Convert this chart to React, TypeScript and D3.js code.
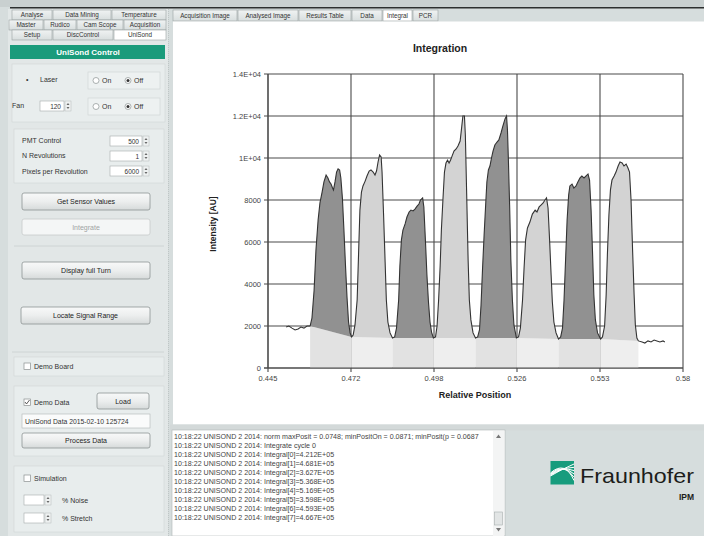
import React from "react";
import * as d3 from "d3";

// ---------- DATA ----------
const positions = [
  0.4509,0.4518,0.4528,0.4538,0.4548,0.4557,0.4567,0.4577,0.4587,
  0.4593,0.4600,0.4606,0.4613,0.4619,0.4626,0.4632,0.4639,0.4645,0.4650,0.4655,0.4660,0.4663,0.4668,0.4673,0.4678,0.4683,0.4687,0.4692,0.4697,0.4702,0.4707,0.4712,0.4717,0.4722,
  0.4727,0.4733,0.4740,0.4744,0.4749,0.4754,0.4759,0.4766,0.4772,0.4779,0.4785,0.4792,0.4798,0.4803,0.4808,0.4813,0.4818,0.4821,0.4826,0.4831,0.4835,0.4840,0.4847,0.4855,
  0.4862,0.4868,0.4875,0.4879,0.4884,0.4889,0.4896,0.4902,0.4909,0.4915,0.4922,0.4928,0.4935,0.4941,0.4946,0.4953,0.4957,0.4962,0.4967,0.4972,0.4977,0.4982,0.4988,
  0.4995,0.5000,0.5005,0.5010,0.5014,0.5019,0.5024,0.5029,0.5034,0.5039,0.5044,0.5049,0.5055,0.5062,0.5068,0.5075,0.5079,0.5084,0.5089,0.5092,0.5096,0.5101,0.5105,0.5110,0.5117,0.5125,
  0.5132,0.5138,0.5143,0.5148,0.5153,0.5158,0.5162,0.5167,0.5172,0.5177,0.5182,0.5188,0.5195,0.5201,0.5208,0.5214,0.5221,0.5226,0.5229,0.5232,0.5236,0.5240,0.5245,0.5250,0.5258,
  0.5265,0.5271,0.5278,0.5283,0.5288,0.5294,0.5302,0.5310,0.5319,0.5325,0.5332,0.5338,0.5345,0.5351,0.5356,0.5361,0.5366,0.5371,0.5375,0.5380,0.5387,0.5395,
  0.5402,0.5408,0.5413,0.5418,0.5423,0.5428,0.5432,0.5439,0.5445,0.5452,0.5458,0.5465,0.5471,0.5478,0.5484,0.5491,0.5496,0.5501,0.5506,0.5510,0.5515,0.5522,0.5532,
  0.5538,0.5545,0.5550,0.5554,0.5559,0.5564,0.5569,0.5576,0.5582,0.5589,0.5595,0.5602,0.5608,0.5615,0.5621,0.5626,0.5631,0.5636,0.5641,0.5645,0.5650,0.5655,
  0.5667,0.5676,0.5686,0.5696,0.5706,0.5715,0.5725,0.5735,0.5741,
];
const intensities = [
  1950,2000,1900,1810,1860,1950,1900,2000,2000,
  2380,3710,5620,7050,7860,8380,8860,9190,9050,8860,8760,8570,8480,8860,9330,9480,9430,9050,8100,6570,4900,3380,2190,1670,1480,
  1570,2050,3240,5140,7520,8380,8670,8900,9140,9380,9430,9330,9190,9380,9810,10140,10050,9330,7290,5050,3240,2190,1670,1430,
  1480,1900,3240,4860,6100,6570,6860,7190,7430,7520,7480,7570,7710,7810,8000,8100,7670,6100,4430,3140,2190,1710,1430,
  1480,2000,3240,4860,6570,8000,9330,9760,9900,9760,9900,10100,10330,10430,10570,10810,11330,12000,12000,11100,8480,5140,3240,2290,1670,1430,
  1480,1810,3000,4760,6330,7760,8860,9430,9620,10000,10330,10620,10760,10860,11190,11520,11860,12000,11330,9900,7760,5140,3240,2050,1430,
  1480,1900,3240,4760,6100,6670,6950,7330,7520,7430,7670,7760,7860,8000,8100,7620,6100,4430,3140,2190,1670,1380,
  1480,1900,3240,5140,7050,8240,8670,8760,8570,8670,8860,9050,9140,9050,9140,9240,8950,7520,5380,3480,2290,1670,1380,
  1480,2000,3480,5380,7290,8480,8950,9140,9330,9620,9810,9760,9620,9710,9520,9330,8000,5620,3480,2050,1430,1290,
  1240,1190,1290,1240,1330,1290,1240,1290,1240,
];
const segmentBounds = [0.4587, 0.4722, 0.4855, 0.4988, 0.5125, 0.5258, 0.5395, 0.5532, 0.5655];
const segmentShades = ["dark", "light", "dark", "light", "dark", "light", "dark", "light"];

const xTickValues = [0.445, 0.472, 0.499, 0.526, 0.553, 0.58];
const xTickLabels = ["0.445", "0.472", "0.498", "0.526", "0.553", "0.58"];
const yTickValues = [0, 2000, 4000, 6000, 8000, 10000, 12000, 14000];
const yTickLabels = ["0", "2000", "4000", "6000", "8000", "1E+04", "1.2E+04", "1.4E+04"];

const logLines = [
  "10:18:22 UNISOND 2 2014: norm maxPosit = 0.0748; minPositOn = 0.0871; minPosit(p = 0.0687",
  "10:18:22 UNISOND 2 2014: Integrate cycle 0",
  "10:18:22 UNISOND 2 2014: Integral[0]=4.212E+05",
  "10:18:22 UNISOND 2 2014: Integral[1]=4.681E+05",
  "10:18:22 UNISOND 2 2014: Integral[2]=3.627E+05",
  "10:18:22 UNISOND 2 2014: Integral[3]=5.368E+05",
  "10:18:22 UNISOND 2 2014: Integral[4]=5.169E+05",
  "10:18:22 UNISOND 2 2014: Integral[5]=3.598E+05",
  "10:18:22 UNISOND 2 2014: Integral[6]=4.593E+05",
  "10:18:22 UNISOND 2 2014: Integral[7]=4.667E+05",
];

const leftTabRows = [
  [["Analyse", 12, 40], ["Data Mining", 53, 58], ["Temperature", 112, 54]],
  [["Master", 9, 34], ["Rudico", 44, 32], ["Cam Scope", 77, 46], ["Acquisition", 124, 42]],
  [["Setup", 12, 40], ["DiscControl", 53, 60], ["UniSond", 114, 52]],
];
const rightTabs = [
  ["Acquisition Image", 173, 64], ["Analysed Image", 238, 60], ["Results Table", 299, 52],
  ["Data", 352, 30], ["Integral", 383, 29], ["PCR", 413, 25],
];

// ---------- HELPERS ----------
const FONT = "'Liberation Sans', Arial, sans-serif";

function Btn({ x, y, w, h, label, disabled }: any) {
  return (
    <g>
      <rect x={x} y={y} width={w} height={h} rx={2} fill={disabled ? "#f4f6f6" : "url(#btnGrad)"} stroke={disabled ? "#c8cccc" : "#8e9494"} strokeWidth={0.8} />
      <text x={x + w / 2} y={y + h / 2 + 2.5} textAnchor="middle" fontSize={7} fill={disabled ? "#a0a4a4" : "#222"} fontFamily={FONT}>{label}</text>
    </g>
  );
}
function Radio({ x, y, label, on }: any) {
  return (
    <g>
      <circle cx={x} cy={y} r={3} fill="#fff" stroke="#8a9090" strokeWidth={0.7} />
      {on && <circle cx={x} cy={y} r={1.5} fill="#333" />}
      <text x={x + 6} y={y + 2.5} fontSize={7} fill="#333" fontFamily={FONT}>{label}</text>
    </g>
  );
}
function Check({ x, y, label, on }: any) {
  return (
    <g>
      <rect x={x - 3} y={y - 3} width={6.5} height={6.5} fill="#fff" stroke="#8a9090" strokeWidth={0.7} />
      {on && <path d={`M${x - 2},${y} L${x - 0.5},${y + 2} L${x + 2.5},${y - 2}`} fill="none" stroke="#333" strokeWidth={0.8} />}
      <text x={x + 7} y={y + 2.5} fontSize={7} fill="#333" fontFamily={FONT}>{label}</text>
    </g>
  );
}
function Spin({ x, y, w, value }: any) {
  return (
    <g>
      <rect x={x} y={y} width={w} height={10} fill="#fff" stroke="#a5abab" strokeWidth={0.6} />
      <text x={x + w - 3} y={y + 7.5} textAnchor="end" fontSize={6.5} fill="#333" fontFamily={FONT}>{value}</text>
      <rect x={x + w + 1} y={y} width={6} height={10} fill="#eef1f1" stroke="#b5bbbb" strokeWidth={0.5} />
      <path d={`M${x + w + 2.5},${y + 4} L${x + w + 4},${y + 2} L${x + w + 5.5},${y + 4}Z`} fill="#666" />
      <path d={`M${x + w + 2.5},${y + 6} L${x + w + 4},${y + 8} L${x + w + 5.5},${y + 6}Z`} fill="#666" />
    </g>
  );
}
function Tab({ label, x, y, w, h, sel }: any) {
  return (
    <g>
      <rect x={x} y={y} width={w} height={h} fill={sel ? "#ffffff" : "url(#tabGrad)"} stroke="#9aa2a2" strokeWidth={0.6} />
      <text x={x + w / 2} y={y + h / 2 + 2.3} textAnchor="middle" fontSize={6.3} fill="#333" fontFamily={FONT}>{label}</text>
    </g>
  );
}

// ---------- APP ----------
export default function App() {
  const x = d3.scaleLinear().domain([0.445, 0.58]).range([268, 683]);
  const y = d3.scaleLinear().domain([0, 14000]).range([368, 74]);
  const pts: [number, number][] = positions.map((p, i) => [p, intensities[i]]);
  const line = d3.line<[number, number]>().x((d) => x(d[0])).y((d) => y(d[1]));

  const segs = segmentShades.map((shade, i) => {
    const a = segmentBounds[i], b = segmentBounds[i + 1];
    const sp = pts.filter((p) => p[0] >= a - 1e-9 && p[0] <= b + 1e-9);
    const va = sp[0][1], vb = sp[sp.length - 1][1];
    const peak = line(sp) + "Z";
    const band = line([[a, va], [b, vb], [b, 0], [a, 0]] as any) + "Z";
    return { shade, peak, band, key: i };
  });

  return (
    <svg width={704} height={536} style={{ position: "absolute", left: 0, top: 0 }} fontFamily={FONT}>
      <defs>
        <linearGradient id="btnGrad" x1="0" y1="0" x2="0" y2="1">
          <stop offset="0" stopColor="#f8f9f9" />
          <stop offset="0.5" stopColor="#eceeee" />
          <stop offset="1" stopColor="#d6dada" />
        </linearGradient>
        <linearGradient id="tabGrad" x1="0" y1="0" x2="0" y2="1">
          <stop offset="0" stopColor="#f0f3f3" />
          <stop offset="1" stopColor="#d8dede" />
        </linearGradient>
      </defs>
      {/* background */}
      <rect x={0} y={0} width={704} height={536} fill="#d6dddd" />
      <rect x={0} y={0} width={704} height={7} fill="#c9d0d0" />
      <rect x={10} y={7} width={694} height={1.5} fill="#2c2f2f" />

      {/* left panel */}
      <rect x={8} y={9} width={160} height={527} fill="#e2e7e7" />
      {leftTabRows.map((row, r) =>
        row.map(([l, tx, tw]: any, k) => (
          <Tab key={r + "-" + k} label={l} x={tx} y={10 + r * 10} w={tw} h={10} sel={r === 2 && k === 2} />
        ))
      )}
      <rect x={10} y={45} width={155} height={14} fill="#1a9b7b" />
      <text x={88} y={55} textAnchor="middle" fontSize={8} fill="#fff" fontWeight="bold">UniSond Control</text>

      <rect x={12} y={64} width={153} height={58} fill="#e8eded" stroke="#cfd5d5" strokeWidth={0.6} />
      <text x={26} y={82} fontSize={7} fill="#333">•</text>
      <text x={40} y={82} fontSize={7} fill="#333">Laser</text>
      <rect x={88} y={72} width={72} height={17} fill="#edf1f1" stroke="#cdd3d3" strokeWidth={0.6} />
      <Radio x={96} y={80.5} label="On" on={false} />
      <Radio x={128} y={80.5} label="Off" on={true} />
      <text x={12} y={108} fontSize={7} fill="#333">Fan</text>
      <Spin x={40} y={101} w={24} value="120" />
      <rect x={88} y={98} width={72} height={17} fill="#edf1f1" stroke="#cdd3d3" strokeWidth={0.6} />
      <Radio x={96} y={106.5} label="On" on={false} />
      <Radio x={128} y={106.5} label="Off" on={true} />

      <rect x={14} y={129} width={150} height={54} fill="#e8eded" stroke="#cfd5d5" strokeWidth={0.6} />
      <text x={22} y={143} fontSize={7} fill="#333">PMT Control</text>
      <Spin x={110} y={136} w={32} value="500" />
      <text x={22} y={158} fontSize={7} fill="#333">N Revolutions</text>
      <Spin x={110} y={151} w={32} value="1" />
      <text x={22} y={174} fontSize={7} fill="#333">Pixels per Revolution</text>
      <Spin x={110} y={166} w={32} value="6000" />

      <Btn x={22} y={193} w={128} h={17} label="Get Sensor Values" />
      <Btn x={22} y={219} w={128} h={16} label="Integrate" disabled />
      <line x1={14} x2={164} y1={246} y2={246} stroke="#cad0d0" strokeWidth={0.8} />
      <Btn x={22} y={262} w={128} h={17} label="Display full Turn" />
      <Btn x={21} y={307} w={129} h={17} label="Locate Signal Range" />
      <line x1={12} x2={164} y1={352} y2={352} stroke="#cad0d0" strokeWidth={0.8} />

      <rect x={14} y={357} width={150} height={19} fill="#e8eded" stroke="#cfd5d5" strokeWidth={0.6} />
      <Check x={27} y={366} label="Demo Board" on={false} />
      <rect x={14} y={386} width={150} height={70} fill="#e8eded" stroke="#cfd5d5" strokeWidth={0.6} />
      <Check x={27} y={402} label="Demo Data" on={true} />
      <Btn x={97} y={393} w={52} h={16} label="Load" />
      <rect x={22} y={414} width={128} height={14} fill="#fafbfb" stroke="#b0b6b6" strokeWidth={0.6} />
      <text x={25} y={424} fontSize={6.8} fill="#333">UniSond Data 2015-02-10 125724</text>
      <Btn x={22} y={433} w={128} h={15} label="Process Data" />
      <rect x={14} y={466} width={150} height={66} fill="#e8eded" stroke="#cfd5d5" strokeWidth={0.6} />
      <Check x={27} y={478} label="Simulation" on={false} />
      <Spin x={24} y={495} w={20} value="" />
      <text x={62} y={503} fontSize={7} fill="#333">% Noise</text>
      <Spin x={24} y={513} w={20} value="" />
      <text x={62} y={521} fontSize={7} fill="#333">% Stretch</text>
      <line x1={168.5} x2={168.5} y1={9} y2={536} stroke="#b9c0c0" strokeWidth={0.8} strokeDasharray="1,1" />

      {/* right tabs */}
      {rightTabs.map(([l, tx, tw]: any, k) => (
        <Tab key={"rt" + k} label={l} x={tx} y={10} w={tw} h={11} sel={k === 4} />
      ))}

      {/* chart area */}
      <rect x={173} y={21.5} width={531} height={403} fill="#ffffff" />
      <text x={440} y={52} textAnchor="middle" fontSize={10.5} fontWeight="bold" fill="#222">Integration</text>

      {/* grid */}
      {yTickValues.map((v) => (
        <line key={"gy" + v} x1={264} x2={683} y1={y(v)} y2={y(v)} stroke="#4a4a4a" strokeWidth={1.1} />
      ))}
      {xTickValues.map((v) => (
        <line key={"gx" + v} x1={x(v)} x2={x(v)} y1={74} y2={372} stroke="#4a4a4a" strokeWidth={1.1} />
      ))}

      {/* fills */}
      {segs.map((s) => (
        <path key={"b" + s.key} d={s.band} fill={s.shade === "dark" ? "#e2e2e2" : "#eeeeee"} />
      ))}
      {segs.map((s) => (
        <path key={"p" + s.key} d={s.peak} fill={s.shade === "dark" ? "#919191" : "#d3d3d3"} />
      ))}
      <path d={line(pts) || ""} fill="none" stroke="#333" strokeWidth={1.1} />

      {/* axes */}
      <line x1={268} x2={268} y1={74} y2={368} stroke="#4a4a4a" strokeWidth={1.1} />
      <line x1={264} x2={683} y1={368} y2={368} stroke="#4a4a4a" strokeWidth={1.1} />
      {yTickValues.map((v, i) => (
        <text key={"yl" + v} x={261} y={y(v) + 2.8} textAnchor="end" fontSize={7.5} fill="#444">{yTickLabels[i]}</text>
      ))}
      {xTickValues.map((v, i) => (
        <text key={"xl" + v} x={x(v)} y={381} textAnchor="middle" fontSize={7.5} fill="#444">{xTickLabels[i]}</text>
      ))}
      <text x={475} y={398} textAnchor="middle" fontSize={9} fontWeight="bold" fill="#222">Relative Position</text>
      <text transform="translate(216,224) rotate(-90)" textAnchor="middle" fontSize={8.5} fontWeight="bold" fill="#222">Intensity [AU]</text>

      {/* log */}
      <rect x={170} y={424.5} width={534} height={6} fill="#d3d9d9" />
      <rect x={172} y={430} width={333} height={106} fill="#ffffff" stroke="#b0b6b6" strokeWidth={0.6} />
      {logLines.map((t, i) => (
        <text key={"log" + i} x={174} y={439 + i * 9} fontSize={7.1} fill="#444">{t}</text>
      ))}
      <rect x={493} y={431} width={11} height={105} fill="#f3f4f4" />
      <path d="M496,438 L498.5,434.5 L501,438Z" fill="#777" />
      <rect x={494.5} y={512} width={8} height={13} fill="#e2e5e5" stroke="#a9aeae" strokeWidth={0.6} />
      <path d="M496,528 L498.5,531.5 L501,528Z" fill="#777" />

      {/* logo */}
      <rect x={550.5} y={461} width={23.5} height={23.5} fill="#179c7d" />
      {[0, 1, 2, 3, 4, 5].map((k) => (
        <path key={"lg" + k} d={`M550.5,${476 - k * 0.6} Q${560 + k},${470 - k * 2} 574,${464 + k * 3.3}`} fill="none" stroke="#fff" strokeWidth={1} />
      ))}
      <text x={580} y={483} fontSize={21} fill="#1d1d1b" textLength={114} lengthAdjust="spacingAndGlyphs">Fraunhofer</text>
      <text x={694} y={500} textAnchor="end" fontSize={8.5} fontWeight="bold" fill="#1d1d1b">IPM</text>
    </svg>
  );
}
